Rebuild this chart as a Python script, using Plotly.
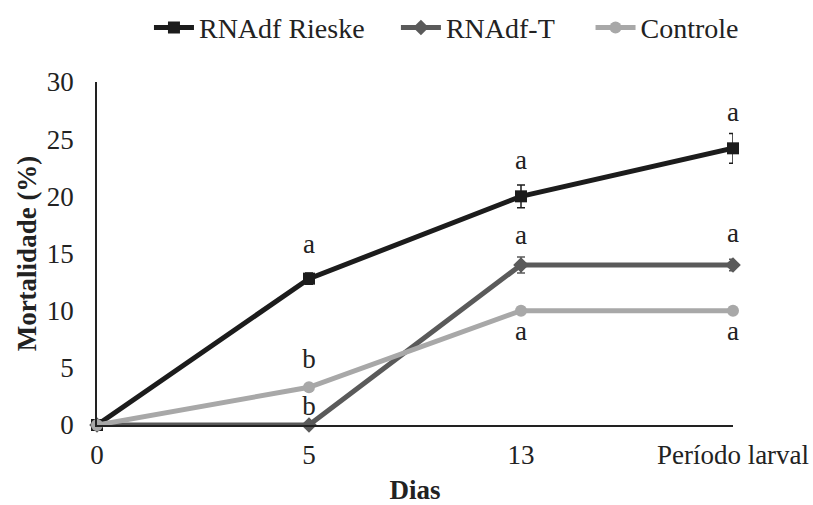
import plotly.graph_objects as go

categories = ["0", "5", "13", "Período larval"]
rieske = [0, 12.8, 20.0, 24.2]
rieske_err = [0, 0.5, 1.0, 1.3]
rnadf_t = [0, 0, 14.0, 14.0]
rnadf_t_err = [0, 0, 0.7, 0.5]
controle = [0, 3.3, 10.0, 10.0]
controle_err = [0, 0.3, 0.3, 0.3]

# significance letters: (category index, y position, letter)
letters = [
    (1, 15.6, "a"), (2, 23.0, "a"), (3, 27.2, "a"),
    (2, 16.4, "a"), (3, 16.6, "a"),
    (2, 8.0, "a"), (3, 8.0, "a"),
    (1, 5.6, "b"), (1, 1.5, "b"),
]

xs = list(range(len(categories)))
font_family = "Liberation Serif"
FS = 27

fig = go.Figure()
series = [
    ("RNAdf Rieske", rieske, rieske_err, "#1c1c1c", "square", "legend", 0.0817),
    ("RNAdf-T", rnadf_t, rnadf_t_err, "#5a5a5a", "diamond", "legend2", 0.470),
    ("Controle", controle, controle_err, "#a8a8a8", "circle", "legend3", 0.776),
]
legend_layout = {}
for name, ys, err, color, sym, leg, lx in series:
    fig.add_trace(go.Scatter(
        x=xs, y=ys, name=name, mode="lines+markers", legend=leg,
        line=dict(color=color, width=5),
        marker=dict(symbol=sym, size=12, color=color),
        error_y=dict(type="data", array=err, color=color, thickness=1.5, width=4),
        cliponaxis=False,
    ))
    legend_layout[leg] = dict(
        orientation="h", x=lx, xanchor="left", y=1.158, yanchor="middle",
        font=dict(family=font_family, size=28, color="#222222"),
        itemwidth=40, bgcolor="rgba(0,0,0,0)",
    )

fig.add_trace(go.Scatter(
    x=[l[0] for l in letters], y=[l[1] for l in letters],
    text=[l[2] for l in letters], mode="text", showlegend=False,
    textfont=dict(family=font_family, size=FS, color="#222222"),
    cliponaxis=False, hoverinfo="skip",
))

fig.update_layout(
    width=813, height=505,
    paper_bgcolor="white", plot_bgcolor="white",
    margin=dict(l=97, r=80, t=82, b=80, autoexpand=False),
    font=dict(family=font_family, size=FS, color="#222222"),
    xaxis=dict(
        range=[0, 3], tickmode="array", tickvals=xs, ticktext=categories,
        showgrid=False, zeroline=False, showline=True, linecolor="#222222", linewidth=1.5,
        ticks="", ticklabelstandoff=5,
        tickfont=dict(family=font_family, size=FS),
        title=dict(text="<b>Dias</b>", standoff=13, font=dict(family=font_family, size=FS)),
    ),
    yaxis=dict(
        range=[0, 30], tickvals=[0, 5, 10, 15, 20, 25, 30],
        showgrid=False, zeroline=False, showline=True, linecolor="#222222", linewidth=1.5,
        ticks="", ticklabelstandoff=16,
        tickfont=dict(family=font_family, size=FS),
        title=dict(text="<b>Mortalidade (%)</b>", standoff=2, font=dict(family=font_family, size=FS)),
    ),
    **legend_layout,
)

fig.write_html("out.html", post_script="document.body.style.margin='0';",
               config={"displayModeBar": False})
